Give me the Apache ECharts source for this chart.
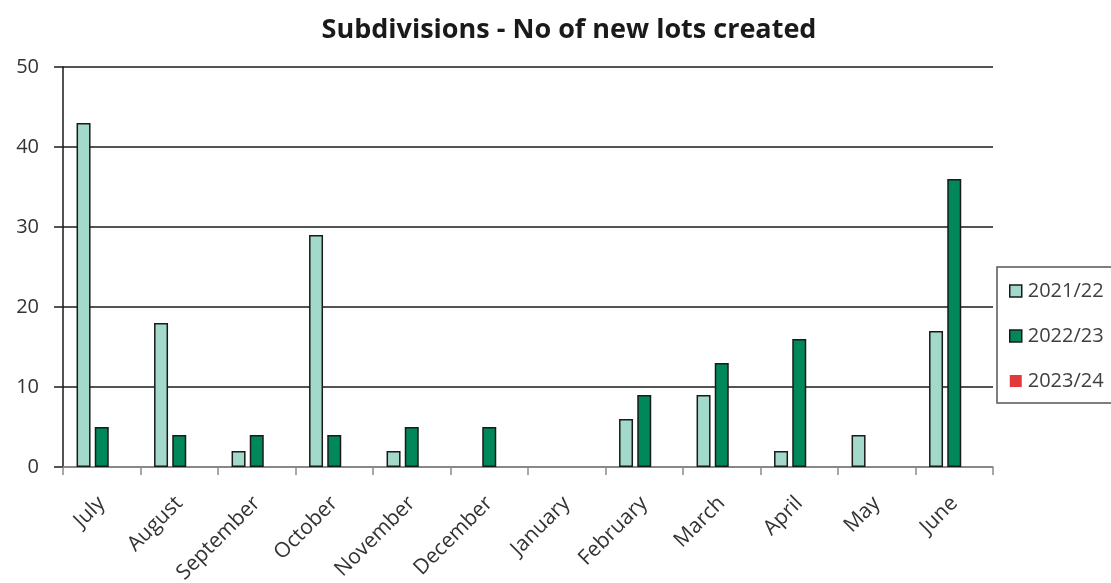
<!DOCTYPE html>
<html>
<head>
<meta charset="utf-8">
<script src="https://cdn.jsdelivr.net/npm/echarts@6/dist/echarts.min.js"></script>
<style>
  html, body { margin: 0; padding: 0; background: #fff; }
  #chart { width: 1111px; height: 583px; }
</style>
</head>
<body>
<div id="chart"></div>
<script>
// Monthly count of new lots created through subdivisions, by financial year
const months = ['July', 'August', 'September', 'October', 'November', 'December',
                'January', 'February', 'March', 'April', 'May', 'June'];
const fy2122 = [43, 18, 2, 29, 2, null, null, 6, 9, 2, 4, 17];
const fy2223 = [5, 4, 4, 4, 5, 5, null, 9, 13, 16, null, 36];
const fy2324 = [null, null, null, null, null, null, null, null, null, null, null, null];
const yTicks = [0, 10, 20, 30, 40, 50];

const chart = echarts.init(document.getElementById('chart'), null, { renderer: 'canvas' });

const barStyle = (color) => ({ color: color, borderColor: '#1a1a1a', borderWidth: 1.5 });

chart.setOption({
  animation: false,
  backgroundColor: '#ffffff',
  title: {
    text: 'Subdivisions - No of new lots created',
    left: 564,
    textAlign: 'center',
    top: 12,
    textStyle: { fontFamily: 'Open Sans', fontWeight: 'bold', fontSize: 27, color: '#1a1a1a' }
  },
  legend: {
    orient: 'vertical',
    left: 997,
    top: 267,
    width: 150,
    padding: [14, 40, 12, 12],
    itemGap: 25,
    itemWidth: 12,
    itemHeight: 12,
    borderColor: '#555',
    borderWidth: 1.5,
    textStyle: { fontFamily: 'Open Sans', fontSize: 20, color: '#404040', padding: [0, 0, 0, 1] },
    data: [
      { name: '2021/22', icon: 'rect', itemStyle: { color: '#a3d9cb', borderColor: '#1a1a1a', borderWidth: 1.5 } },
      { name: '2022/23', icon: 'rect', itemStyle: { color: '#00875a', borderColor: '#1a1a1a', borderWidth: 1.5 } },
      { name: '2023/24', icon: 'rect', itemStyle: { color: '#e23a3a', borderWidth: 0 } }
    ]
  },
  grid: { left: 63, right: 118, top: 67, bottom: 116, containLabel: false, outerBoundsMode: 'none' },
  xAxis: {
    type: 'category',
    data: months,
    axisLine: { show: true, lineStyle: { color: '#9a9a9a', width: 1.5 } },
    axisTick: { show: true, length: 8, lineStyle: { color: '#8a8a8a', width: 1.5 } },
    axisLabel: {
      rotate: 45,
      margin: 33,
      fontFamily: 'Open Sans',
      fontSize: 21,
      color: '#333'
    }
  },
  yAxis: {
    type: 'value',
    min: yTicks[0],
    max: yTicks[yTicks.length - 1],
    interval: 10,
    axisLine: { show: true, lineStyle: { color: '#1a1a1a', width: 1.5 } },
    axisTick: { show: true, length: 9, lineStyle: { color: '#1a1a1a', width: 1.5 } },
    splitLine: { show: true, lineStyle: { color: '#1a1a1a', width: 1.5 } },
    axisLabel: { margin: 24, fontFamily: 'Open Sans', fontSize: 20, color: '#333' }
  },
  series: [
    { name: '2021/22', type: 'bar', data: fy2122, barWidth: 14, barGap: '30%', itemStyle: barStyle('#a3d9cb') },
    { name: '2022/23', type: 'bar', data: fy2223, barWidth: 14, barGap: '30%', itemStyle: barStyle('#00875a') },
    { name: '2023/24', type: 'bar', data: fy2324, barWidth: 14, barGap: '30%', itemStyle: { color: '#e23a3a' } }
  ]
});
</script>
</body>
</html>
